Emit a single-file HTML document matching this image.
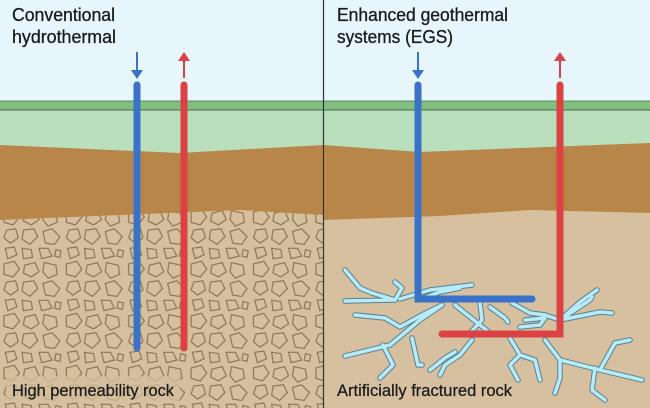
<!DOCTYPE html>
<html><head><style>body{margin:0;background:#fff}svg{display:block}text{font-family:"Liberation Sans",Arial,sans-serif;fill:#1a1a1a}</style></head><body>
<svg width="650" height="408" viewBox="0 0 650 408" xmlns="http://www.w3.org/2000/svg">
<defs>
<pattern id="rk" width="48" height="40" patternUnits="userSpaceOnUse" patternTransform="scale(1.3)">
<rect width="48" height="40" fill="#d5bf9d"/>
<g fill="none" stroke="#8b7456" stroke-width="0.9">
<path d="M3 3 L11 1 L15 7 L10 13 L3 11 Z"/>
<path d="M19 4 L27 2 L30 9 L24 13 L18 10 Z"/>
<path d="M34 2 L43 4 L44 11 L37 14 L33 9 Z"/>
<path d="M5 17 L12 16 L14 23 L8 27 L3 23 Z"/>
<path d="M18 17 L26 16 L29 22 L23 28 L17 24 Z"/>
<path d="M33 18 L40 16 L46 22 L42 28 L35 27 Z"/>
<path d="M4 31 L11 30 L13 36 L6 39 Z"/>
<path d="M17 31 L24 32 L25 38 L18 39 Z"/>
<path d="M30 31 L37 31 L40 37 L32 39 Z"/>
<path d="M43 32 L47 33 L46 38 L42 37 Z"/>
</g>
</pattern>
</defs>
<rect width="650" height="408" fill="#e6f6fc"/>
<rect x="0" y="101" width="323" height="307" fill="#b9dfbd"/>
<rect x="0" y="101" width="323" height="9" fill="#80bf80"/>
<line x1="0" y1="110" x2="323" y2="110" stroke="#4a6a4a" stroke-width="1"/>
<line x1="0" y1="101" x2="323" y2="101" stroke="#4a6a4a" stroke-width="0.8"/>
<path d="M0 145 L180 153 L323 145 L323 408 L0 408 Z" fill="#b9864a"/>
<path d="M0 220 L240 210 L323 215 L323 408 L0 408 Z" fill="url(#rk)"/>
<rect x="323" y="101" width="327" height="307" fill="#b9dfbd"/>
<rect x="323" y="101" width="327" height="9" fill="#80bf80"/>
<line x1="323" y1="110" x2="650" y2="110" stroke="#4a6a4a" stroke-width="1"/>
<line x1="323" y1="101" x2="650" y2="101" stroke="#4a6a4a" stroke-width="0.8"/>
<path d="M323 145 L420 152 L650 143 L650 408 L323 408 Z" fill="#b9864a"/>
<path d="M323 220 L440 216 L530 210 L650 213 L650 408 L323 408 Z" fill="#d6c0a0"/>
<line x1="323.5" y1="0" x2="323.5" y2="408" stroke="#333" stroke-width="1.2"/>
<g fill="none" stroke-linecap="round" stroke-linejoin="round" stroke="#5a7f90" stroke-width="5.5">
<path d="M345 270 L360 288 L372 293 L395 300 L345 301"/>
<path d="M395 300 L402 288 L395 282"/>
<path d="M400 299 L430 290 L472 285"/>
<path d="M418 300 L440 292 L460 288"/>
<path d="M355 315 L385 318 L400 327 L420 316 L442 305"/>
<path d="M442 305 L420 320 L390 345 L345 356"/>
<path d="M383 345 L393 365 L380 378"/>
<path d="M412 338 L418 365 L422 365"/>
<path d="M455 305 L480 325 L490 333"/>
<path d="M480 303 L482 320 L470 333"/>
<path d="M490 307 L505 318 L508 322"/>
<path d="M512 303 L530 313 L545 315 L560 320 L590 300 L592 297"/>
<path d="M525 320 L545 318 L540 325 L520 327"/>
<path d="M560 320 L600 312 L612 313"/>
<path d="M560 320 L580 302 L597 290"/>
<path d="M472 340 L460 355 L445 365 L440 375"/>
<path d="M455 352 L445 358 L430 370"/>
<path d="M510 338 L520 355 L535 360 L540 380"/>
<path d="M520 355 L510 365 L518 380"/>
<path d="M545 340 L560 360 L560 378 L555 393"/>
<path d="M560 360 L600 370 L642 380"/>
<path d="M595 368 L592 390 L605 400"/>
<path d="M600 370 L615 343 L630 340"/>
</g>
<g fill="none" stroke-linecap="round" stroke-linejoin="round" stroke="#b6ecf8" stroke-width="3.5">
<path d="M345 270 L360 288 L372 293 L395 300 L345 301"/>
<path d="M395 300 L402 288 L395 282"/>
<path d="M400 299 L430 290 L472 285"/>
<path d="M418 300 L440 292 L460 288"/>
<path d="M355 315 L385 318 L400 327 L420 316 L442 305"/>
<path d="M442 305 L420 320 L390 345 L345 356"/>
<path d="M383 345 L393 365 L380 378"/>
<path d="M412 338 L418 365 L422 365"/>
<path d="M455 305 L480 325 L490 333"/>
<path d="M480 303 L482 320 L470 333"/>
<path d="M490 307 L505 318 L508 322"/>
<path d="M512 303 L530 313 L545 315 L560 320 L590 300 L592 297"/>
<path d="M525 320 L545 318 L540 325 L520 327"/>
<path d="M560 320 L600 312 L612 313"/>
<path d="M560 320 L580 302 L597 290"/>
<path d="M472 340 L460 355 L445 365 L440 375"/>
<path d="M455 352 L445 358 L430 370"/>
<path d="M510 338 L520 355 L535 360 L540 380"/>
<path d="M520 355 L510 365 L518 380"/>
<path d="M545 340 L560 360 L560 378 L555 393"/>
<path d="M560 360 L600 370 L642 380"/>
<path d="M595 368 L592 390 L605 400"/>
<path d="M600 370 L615 343 L630 340"/>
</g>
<g stroke-width="7" fill="none" stroke-linejoin="miter">
<path d="M137 85 L137 348" stroke="#3a72c8" stroke-linecap="round"/>
<path d="M184 85 L184 348" stroke="#dc4143" stroke-linecap="round"/>
<path d="M418 85 L418 299 L532 299" stroke="#3a72c8" stroke-linecap="round"/>
<path d="M560 85 L560 334 L442 334" stroke="#dc4143" stroke-linecap="round"/>
</g>
<g stroke-width="2">
<line x1="137" y1="52" x2="137" y2="72" stroke="#3a72c8"/><polygon points="131,70 143,70 137,79" fill="#3a72c8"/>
<line x1="184" y1="58" x2="184" y2="78" stroke="#dc4143"/><polygon points="178,61 190,61 184,52" fill="#dc4143"/>
<line x1="418" y1="52" x2="418" y2="72" stroke="#3a72c8"/><polygon points="412,70 424,70 418,79" fill="#3a72c8"/>
<line x1="560" y1="58" x2="560" y2="78" stroke="#dc4143"/><polygon points="554,61 566,61 560,52" fill="#dc4143"/>
</g>
<g font-size="18" stroke="#1a1a1a" stroke-width="0.3">
<text x="12" y="21" textLength="103" lengthAdjust="spacingAndGlyphs">Conventional</text>
<text x="12" y="43" textLength="104" lengthAdjust="spacingAndGlyphs">hydrothermal</text>
<text x="337" y="21" textLength="171" lengthAdjust="spacingAndGlyphs">Enhanced geothermal</text>
<text x="337" y="43" textLength="116" lengthAdjust="spacingAndGlyphs">systems (EGS)</text>
</g>
<rect x="6" y="376" width="174" height="26" rx="3" fill="#d5bf9d" opacity="0.75"/>
<g font-size="17" stroke="#1a1a1a" stroke-width="0.25">
<text x="12" y="396" textLength="162" lengthAdjust="spacingAndGlyphs">High permeability rock</text>
<text x="337" y="396" textLength="175" lengthAdjust="spacingAndGlyphs">Artificially fractured rock</text>
</g>
</svg>
</body></html>
